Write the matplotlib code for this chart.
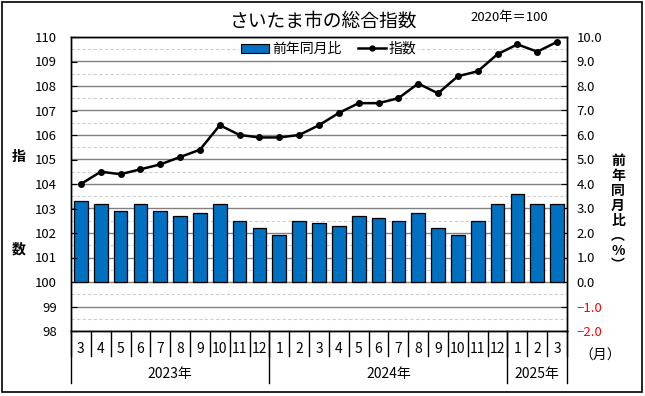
import matplotlib
matplotlib.use('Agg')
import matplotlib.pyplot as plt
import matplotlib.transforms as mtransforms
from matplotlib.patches import Rectangle
from matplotlib.lines import Line2D
from matplotlib.ticker import MultipleLocator, FuncFormatter

plt.rcParams['font.family'] = ['Noto Sans CJK JP', 'DejaVu Sans']

# ---- data ----
months = ['3', '4', '5', '6', '7', '8', '9', '10', '11', '12',
          '1', '2', '3', '4', '5', '6', '7', '8', '9', '10', '11', '12',
          '1', '2', '3']
years = ['2023年', '2024年', '2025年']
year_counts = [10, 12, 3]
index_values = [104.0, 104.5, 104.4, 104.6, 104.8, 105.1, 105.4, 106.4, 106.0, 105.9,
                105.9, 106.0, 106.4, 106.9, 107.3, 107.3, 107.5, 108.1, 107.7, 108.4,
                108.6, 109.3, 109.7, 109.4, 109.8]
yoy_values = [3.3, 3.2, 2.9, 3.2, 2.9, 2.7, 2.8, 3.2, 2.5, 2.2,
              1.9, 2.5, 2.4, 2.3, 2.7, 2.6, 2.5, 2.8, 2.2, 1.9,
              2.5, 3.2, 3.6, 3.2, 3.2]

BAR_COLOR = '#0070C0'

fig = plt.figure(figsize=(6.45, 3.96), dpi=100)
L, R, B, T = 71 / 645, 567 / 645, (396 - 331) / 396, (396 - 37) / 396
ax = fig.add_axes([L, B, R - L, T - B])
ax2 = ax.twinx()
ax2.set_zorder(1)
ax.set_zorder(2)
ax.patch.set_visible(False)

x = list(range(len(months)))

# bars (right axis)
ax2.bar(x, yoy_values, width=0.69, color=BAR_COLOR, edgecolor='black', linewidth=0.9, zorder=3)
ax2.set_ylim(-2, 10)
ax2.yaxis.set_major_locator(MultipleLocator(1))
ax2.yaxis.set_minor_locator(MultipleLocator(0.5))
ax2.set_axisbelow(True)
ax2.grid(which='major', axis='y', color='#808080', linewidth=1.0, linestyle='-')
ax2.grid(which='minor', axis='y', color='#cfcfcf', linewidth=0.8, linestyle=(0, (3, 2)))
ax2.tick_params(axis='y', which='major', direction='in', length=4.5, width=0.8,
                labelsize=9.5, pad=7, colors='black')
ax2.tick_params(axis='y', which='minor', length=0)
ax2.yaxis.set_major_formatter(FuncFormatter(lambda v, p: ('\u2212%.1f' % abs(v)) if v < 0 else '%.1f' % v))

# line (left axis)
ax.plot(x, index_values, color='black', linewidth=1.8, marker='o', markersize=4, zorder=5)
ax.set_ylim(98, 110)
ax.set_xlim(-0.5, len(months) - 0.5)
ax.yaxis.set_major_locator(MultipleLocator(1))
ax.tick_params(axis='y', direction='in', length=4.5, width=0.8, labelsize=9.5, pad=10)
ax.set_xticks([])
ax2.set_xticks([])
for sp in list(ax.spines.values()) + list(ax2.spines.values()):
    sp.set_linewidth(1.0)
    sp.set_color('black')

fig.canvas.draw()
for lab in ax2.get_yticklabels():
    if lab.get_text().startswith('\u2212'):
        lab.set_color('red')

# x-axis category separators & labels
trans = mtransforms.blended_transform_factory(ax.transData, ax.transAxes)
for k in range(len(months) + 1):
    ax.add_line(Line2D([k - 0.5, k - 0.5], [0, -0.085], color='black', linewidth=1.0,
                       transform=trans, clip_on=False))
for i, m in enumerate(months):
    ax.text(i, -0.061, m, transform=trans, ha='center', va='center', fontsize=10)
start = 0
bounds = [-0.5]
for yl, cnt in zip(years, year_counts):
    center = start + (cnt - 1) / 2
    ax.text(center, -0.146, yl, transform=trans, ha='center', va='center', fontsize=10)
    start += cnt
    bounds.append(start - 0.5)
for bnd in bounds:
    ax.add_line(Line2D([bnd, bnd], [0, -0.177], color='black', linewidth=1.0,
                       transform=trans, clip_on=False))

# legend
handles = [Rectangle((0, 0), 1, 1, facecolor=BAR_COLOR, edgecolor='black', linewidth=0.8),
           Line2D([], [], color='black', linewidth=1.8, marker='o', markersize=3.5)]
leg = ax.legend(handles, ['前年同月比', '指数'], ncol=2, loc='center',
                bbox_to_anchor=(0.52, 0.959), frameon=True, fontsize=10,
                handlelength=2.0, handleheight=0.6, handletextpad=0.2, columnspacing=1.2,
                borderpad=0.15, borderaxespad=0)
leg.get_frame().set_facecolor('white')
leg.get_frame().set_edgecolor('none')
leg.get_frame().set_alpha(1)

# titles and axis labels
fig.text(323 / 645, 1 - 21 / 396, 'さいたま市の総合指数', ha='center', va='center', fontsize=13.5)
fig.text(509 / 645, 1 - 18 / 396, '2020年＝100', ha='center', va='center', fontsize=9.5)
fig.text(19 / 645, 1 - 157 / 396, '指', ha='center', va='center', fontsize=10, fontweight='bold')
fig.text(19 / 645, 1 - 250 / 396, '数', ha='center', va='center', fontsize=10, fontweight='bold')
fig.text(618 / 645, 1 - 213.5 / 396, '前\n年\n同\n月\n比\n︵\n%\n︶', ha='center', va='center',
         fontsize=10, fontweight='bold', linespacing=1.08)
fig.text(600 / 645, 1 - 356 / 396, '（月）', ha='center', va='center', fontsize=10)

# outer border
fig.patches.append(Rectangle((1.5 / 645, 4 / 396), 640 / 645, 390 / 396, transform=fig.transFigure,
                             fill=False, edgecolor='black', linewidth=1.2))

fig.savefig('out.png', dpi=100, facecolor='white')
